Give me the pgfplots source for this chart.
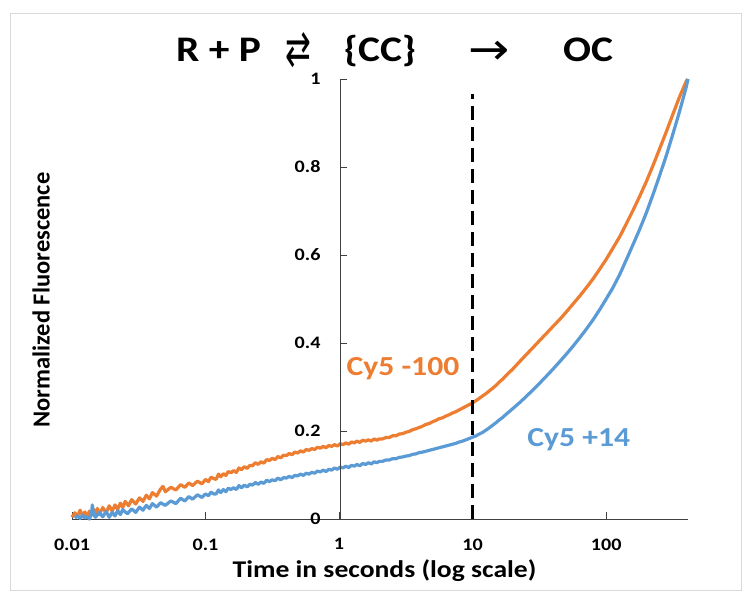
\documentclass[border=0pt]{standalone}
\usepackage{pgfplots}
\pgfplotsset{compat=1.18}
\usepackage{fontspec}
\setmainfont{Carlito}[FakeStretch=1.15]
\newfontfamily\ylabfont{Carlito}
\newfontfamily\arrowfont{DejaVu Sans}
\definecolor{cyorange}{HTML}{ED7D31}
\definecolor{cyblue}{HTML}{5B9BD5}
\definecolor{axgray}{HTML}{404040}
\begin{document}
\begin{tikzpicture}[x=1pt,y=1pt]
\fill[white] (0,0) rectangle (750,600);
\draw[black!15, line width=0.8pt] (10,10) rectangle (741,587);
% title
\node[font=\fontsize{36}{38}\selectfont\bfseries, anchor=base, inner sep=0pt] at (218.5,538) {R + P};
\node[inner sep=0pt] at (298.5,549.5) {\scalebox{1.1}[1.75]{\fontsize{28}{28}\selectfont\arrowfont ⇄}};
\node[font=\fontsize{36}{38}\selectfont\bfseries, anchor=base, inner sep=0pt] at (380,538) {\{CC\}};
\node[inner sep=0pt] at (489,547) {\scalebox{1.45}[1.3]{\fontsize{34}{34}\selectfont\arrowfont →}};
\node[font=\fontsize{36}{38}\selectfont\bfseries, anchor=base, inner sep=0pt] at (588,538) {OC};
% axis labels
\node[font=\fontsize{24.5}{25}\selectfont\ylabfont\bfseries, rotate=90] at (41,300) {Normalized Fluorescence};
\node[font=\fontsize{24}{25}\selectfont\bfseries, anchor=base] at (384.5,23) {Time in seconds (log scale)};
% main axis: x axis and data
\begin{axis}[
  at={(72pt,81pt)}, anchor=south west, scale only axis,
  width=616pt, height=440pt,
  xmode=log, xmin=0.01, xmax=410, ymin=0, ymax=1,
  axis x line*=bottom, axis y line=none,
  axis line style={axgray, line width=0.9pt},
  xtick={0.01,0.1,1,10,100}, xticklabels={0.01,0.1,1,10,100},
  xminorticks=false,
  tick align=inside, major tick length=7pt,
  tick style={axgray, line width=0.9pt},
  ticklabel style={font=\fontsize{17.5}{18}\selectfont\bfseries},
  xticklabel style={anchor=north, yshift=-16pt},
  clip=false,
]
\addplot[cyorange, line width=3.2pt, line join=round] coordinates {
(0.0100,0.004) (0.0105,0.014) (0.0110,0.006) (0.0115,0.020) (0.0120,0.008)
(0.0125,0.016) (0.0130,0.004) (0.0135,0.018) (0.0140,0.010) (0.0145,0.022)
(0.0150,0.012) (0.0155,0.024) (0.0160,0.010) (0.0170,0.026) (0.0180,0.014)
(0.0190,0.030) (0.0200,0.018) (0.0210,0.032) (0.0220,0.022) (0.0230,0.036)
(0.0240,0.026) (0.0250,0.040) (0.0265,0.030) (0.0280,0.044) (0.0300,0.034)
(0.0320,0.048) (0.0340,0.040) (0.0360,0.054) (0.0380,0.046) (0.0400,0.060)
(0.0430,0.052) (0.0460,0.068) (0.0480,0.074) (0.0500,0.062) (0.0550,0.072)
(0.0600,0.066) (0.0650,0.078) (0.0700,0.072) (0.0750,0.082) (0.0800,0.076)
(0.0870,0.086) (0.0940,0.080)
(0.100,0.090) (0.105,0.085) (0.110,0.095) (0.115,0.092) (0.120,0.090)
(0.125,0.102) (0.130,0.096) (0.136,0.103) (0.142,0.099) (0.148,0.108)
(0.155,0.105) (0.162,0.110) (0.170,0.106) (0.178,0.116) (0.186,0.112)
(0.195,0.119) (0.205,0.115) (0.215,0.122) (0.225,0.121) (0.236,0.128)
(0.248,0.124) (0.260,0.130) (0.273,0.127) (0.287,0.135) (0.301,0.133)
(0.316,0.138) (0.332,0.135) (0.348,0.142) (0.365,0.139) (0.384,0.145)
(0.403,0.144) (0.423,0.149) (0.444,0.146) (0.466,0.152) (0.490,0.150)
(0.514,0.155) (0.540,0.152) (0.567,0.158) (0.595,0.156) (0.625,0.160)
(0.656,0.158) (0.689,0.163) (0.723,0.161) (0.760,0.165) (0.798,0.162)
(0.838,0.167) (0.880,0.165) (0.924,0.169) (0.970,0.166) (1.02,0.171)
(1.07,0.169) (1.12,0.173) (1.18,0.170) (1.24,0.175) (1.30,0.173)
(1.36,0.177) (1.43,0.174) (1.50,0.179) (1.58,0.177) (1.66,0.180)
(1.74,0.177) (1.83,0.182) (1.92,0.179) (2.00,0.182) (2.11,0.182)
(2.24,0.185) (2.37,0.185) (2.51,0.189) (2.66,0.189) (2.82,0.193)
(2.99,0.194) (3.16,0.197) (3.35,0.199) (3.55,0.203) (3.76,0.205)
(3.98,0.208) (4.22,0.211) (4.47,0.215) (4.73,0.217) (5.01,0.221)
(5.31,0.224) (5.62,0.228) (5.96,0.230) (6.31,0.234) (6.68,0.237)
(7.08,0.241) (7.50,0.244) (7.94,0.248) (8.41,0.252) (8.91,0.256)
(9.44,0.260) (10.0,0.264) (10.6,0.269) (11.2,0.274) (11.9,0.280)
(12.6,0.285) (13.3,0.291) (14.1,0.297) (15.0,0.304) (15.8,0.311)
(16.8,0.318) (17.8,0.326) (18.8,0.333) (20.0,0.341) (22.4,0.357)
(25.1,0.373) (28.2,0.389) (31.6,0.405) (35.5,0.421) (39.8,0.437)
(44.7,0.453) (50.1,0.470) (56.2,0.488) (63.1,0.506) (70.8,0.525)
(79.4,0.545) (89.1,0.567) (100,0.590) (112,0.615) (126,0.641)
(141,0.670) (158,0.700) (178,0.733) (200,0.767) (224,0.803)
(251,0.841) (282,0.880) (316,0.920) (355,0.960) (398,0.995) (407,1.000)
};
\addplot[cyblue, line width=3.2pt, line join=round] coordinates {
(0.0105,0.002) (0.0110,0.007) (0.0115,0.001) (0.0120,0.009) (0.0125,0.002)
(0.0130,0.005) (0.0135,0.000) (0.0140,0.012) (0.0142,0.032) (0.0145,0.010)
(0.0150,0.004) (0.0160,0.015) (0.0170,0.005) (0.0180,0.017) (0.0190,0.004)
(0.0200,0.015) (0.0210,0.007) (0.0220,0.019) (0.0230,0.010) (0.0240,0.021)
(0.0260,0.012) (0.0280,0.023) (0.0300,0.015) (0.0320,0.027) (0.0340,0.020)
(0.0360,0.031) (0.0380,0.024) (0.0400,0.035) (0.0430,0.027) (0.0460,0.037)
(0.0500,0.031) (0.0550,0.041) (0.0600,0.035) (0.0650,0.047) (0.0700,0.041)
(0.0750,0.051) (0.0800,0.045) (0.0870,0.055) (0.0940,0.049)
(0.100,0.057) (0.105,0.053) (0.110,0.061) (0.115,0.057) (0.120,0.057)
(0.125,0.066) (0.130,0.060) (0.136,0.067) (0.142,0.062) (0.148,0.070)
(0.155,0.067) (0.162,0.071) (0.170,0.067) (0.178,0.076) (0.186,0.071)
(0.195,0.077) (0.205,0.073) (0.215,0.079) (0.225,0.077) (0.236,0.083)
(0.248,0.079) (0.260,0.084) (0.273,0.081) (0.287,0.088) (0.301,0.085)
(0.316,0.089) (0.332,0.087) (0.348,0.093) (0.365,0.089) (0.384,0.094)
(0.403,0.093) (0.423,0.097) (0.444,0.094) (0.466,0.099) (0.490,0.098)
(0.514,0.102) (0.540,0.099) (0.567,0.104) (0.595,0.102) (0.625,0.106)
(0.656,0.104) (0.689,0.109) (0.723,0.107) (0.760,0.111) (0.798,0.108)
(0.838,0.113) (0.880,0.111) (0.924,0.116) (0.970,0.113) (1.02,0.118)
(1.07,0.116) (1.12,0.120) (1.18,0.117) (1.24,0.122) (1.30,0.120)
(1.36,0.124) (1.43,0.121) (1.50,0.126) (1.58,0.124) (1.66,0.128)
(1.74,0.125) (1.83,0.130) (1.92,0.128) (2.00,0.131) (2.11,0.131)
(2.24,0.134) (2.37,0.134) (2.51,0.137) (2.66,0.137) (2.82,0.140)
(2.99,0.141) (3.16,0.143) (3.35,0.144) (3.55,0.147) (3.76,0.148)
(3.98,0.151) (4.22,0.152) (4.47,0.154) (4.73,0.156) (5.01,0.158)
(5.31,0.160) (5.62,0.162) (5.96,0.164) (6.31,0.166) (6.68,0.168)
(7.08,0.170) (7.50,0.172) (7.94,0.175) (8.41,0.177) (8.91,0.180)
(9.44,0.183) (10.0,0.186) (10.6,0.189) (11.2,0.193) (11.9,0.197)
(12.6,0.202) (13.3,0.207) (14.1,0.213) (15.0,0.219) (15.8,0.225)
(16.8,0.231) (17.8,0.238) (18.8,0.244) (20.0,0.251) (22.4,0.264)
(25.1,0.278) (28.2,0.293) (31.6,0.308) (35.5,0.324) (39.8,0.340)
(44.7,0.357) (50.1,0.374) (56.2,0.392) (63.1,0.411) (70.8,0.431)
(79.4,0.452) (89.1,0.475) (100,0.500) (112,0.525) (126,0.555)
(141,0.588) (158,0.622) (178,0.658) (200,0.696) (224,0.737)
(251,0.780) (282,0.826) (316,0.875) (355,0.927) (398,0.982) (410,1.000)
};
\addplot[black, line width=3pt, dash pattern=on 14pt off 7pt] coordinates {(10,0) (10,0.965)};
\node[font=\fontsize{27.5}{28}\selectfont\bfseries, text=cyorange] at (axis cs:3.01,0.341) {Cy5 -100};
\node[font=\fontsize{27.5}{28}\selectfont\bfseries, text=cyblue] at (axis cs:62.4,0.18) {Cy5 +14};
\end{axis}
% y axis crossing at x = 1
\begin{axis}[
  at={(340pt,81pt)}, anchor=south west, scale only axis,
  width=348pt, height=440pt,
  xmode=log, xmin=1, xmax=410, ymin=0, ymax=1,
  axis y line*=left, axis x line=none,
  axis line style={axgray, line width=0.9pt},
  ytick={0,0.2,0.4,0.6,0.8,1}, yticklabels={0,0.2,0.4,0.6,0.8,1},
  yminorticks=false,
  tick align=inside, major tick length=7pt,
  tick style={axgray, line width=0.9pt},
  ticklabel style={font=\fontsize{17.5}{18}\selectfont\bfseries},
  yticklabel style={anchor=east, xshift=-16pt},
]
\end{axis}
\end{tikzpicture}
\end{document}
